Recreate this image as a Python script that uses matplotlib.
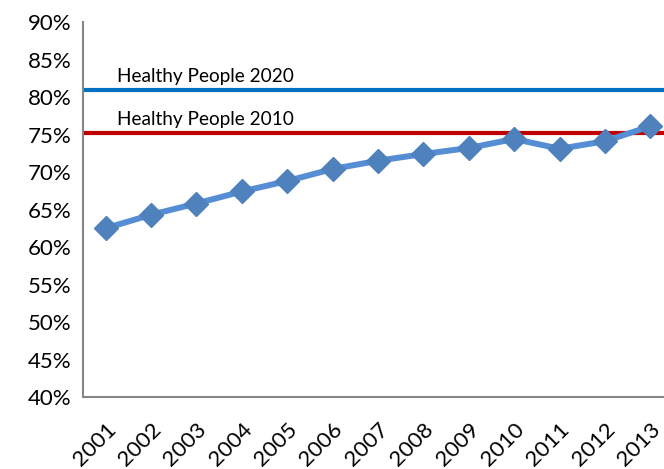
import matplotlib
matplotlib.use("Agg")
import matplotlib.pyplot as plt
from matplotlib.ticker import FuncFormatter

years = ["2001", "2002", "2003", "2004", "2005", "2006", "2007",
         "2008", "2009", "2010", "2011", "2012", "2013"]
values = [62.5, 64.3, 65.8, 67.4, 68.8, 70.4, 71.5, 72.4, 73.2, 74.4, 73.1, 74.1, 76.1]
hp2020 = 80.9
hp2010 = 75.2
hp2020_label = "Healthy People 2020"
hp2010_label = "Healthy People 2010"

plt.rcParams['font.family'] = ['Lato', 'DejaVu Sans']

fig = plt.figure(figsize=(6.64, 4.69), dpi=100)
W, H = 664, 469
left, right, top, bottom = 83, 673, 22, 397
ax = fig.add_axes([left / W, 1 - bottom / H, (right - left) / W, (bottom - top) / H])

x = list(range(len(years)))
ax.axhline(hp2020, color="#0070C0", lw=3.0, zorder=2)
ax.axhline(hp2010, color="#C00000", lw=3.0, zorder=2)
ax.plot(x, values, color="#558ED5", lw=4.3, marker="D", ms=12,
        markerfacecolor="#4F81BD", markeredgecolor="#4F81BD", zorder=3)

ax.text(0.25, hp2020 + 0.7, hp2020_label, fontsize=13.7, color="black", va="bottom")
ax.text(0.25, hp2010 + 0.7, hp2010_label, fontsize=13.7, color="black", va="bottom")

ax.set_xlim(-0.5, len(years) - 0.5)
ax.set_ylim(40, 90)
ax.set_yticks(range(40, 91, 5))
ax.yaxis.set_major_formatter(FuncFormatter(lambda v, p: f"{int(v)}%"))
ax.set_xticks(x)
ax.set_xticklabels(years, rotation=45, ha="right", rotation_mode="anchor")
ax.tick_params(axis="both", length=0, labelsize=16, colors="black")
ax.tick_params(axis="y", pad=8)
ax.tick_params(axis="x", pad=16)
for s in ["top", "right"]:
    ax.spines[s].set_visible(False)
for s in ["left", "bottom"]:
    ax.spines[s].set_color("#868686")
    ax.spines[s].set_linewidth(1.5)

fig.savefig("out.png", dpi=100)
